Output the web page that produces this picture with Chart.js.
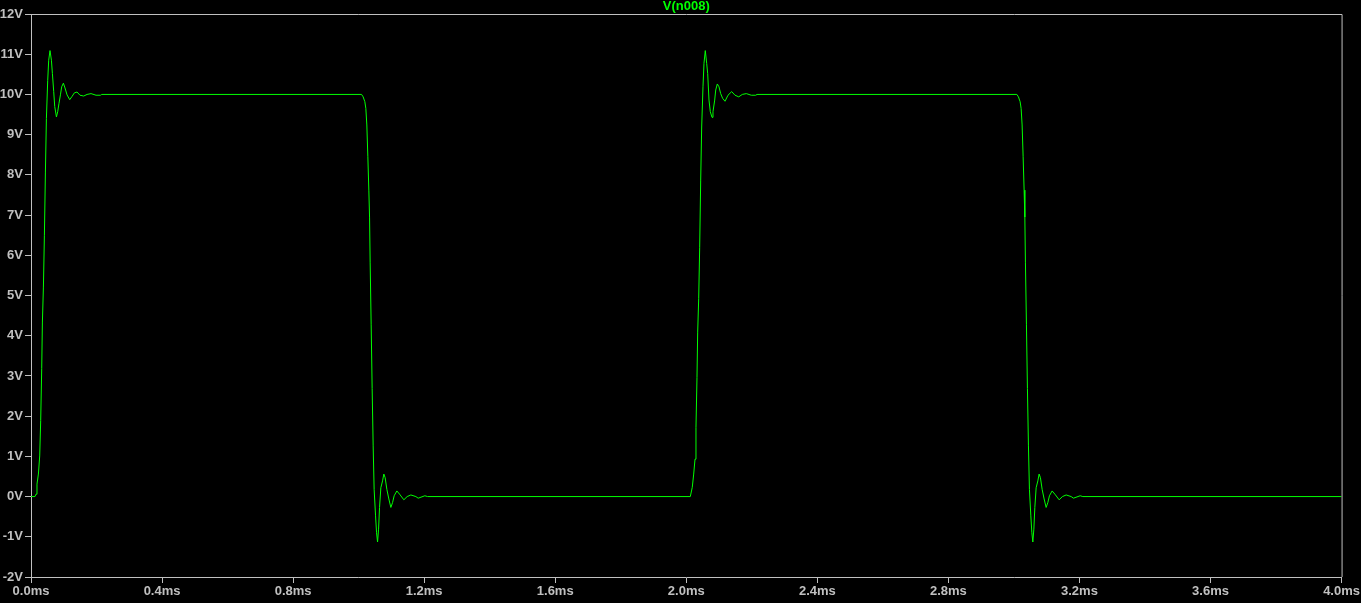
<!DOCTYPE html>
<html>
<head>
<meta charset="utf-8">
<title>V(n008)</title>
<script src="https://cdn.jsdelivr.net/npm/chart.js@4.4.1/dist/chart.umd.min.js"></script>
<style>
	html, body { margin: 0; padding: 0; background: #000; }
	#scope { display: block; }
</style>
</head>
<body>
<canvas id="scope" width="1361" height="603"></canvas>
<script>
// time in ms, voltage in V
const rise1Time = [0, 0.0122, 0.0153, 0.0183, 0.0226, 0.0266, 0.0296, 0.0327, 0.0348, 0.0379, 0.0409, 0.044, 0.047, 0.051, 0.054, 0.058, 0.0623, 0.0653, 0.0693, 0.0724, 0.0776, 0.0815, 0.0855, 0.0898, 0.0937, 0.0989, 0.1038, 0.11, 0.1182, 0.1252, 0.1325, 0.1405, 0.1496, 0.1609, 0.171, 0.1832, 0.1985, 0.2119, 0.2159];
const rise1Volt = [0, 0, 0.06, 0.31, 0.56, 1.01, 1.89, 3.18, 4.34, 5.21, 6.50, 8.07, 9.40, 10.35, 10.85, 11.09, 10.85, 10.52, 10.07, 9.70, 9.44, 9.57, 9.78, 9.99, 10.19, 10.28, 10.16, 9.99, 9.87, 9.95, 10.04, 10.06, 9.98, 9.96, 10.0, 10.02, 9.98, 9.98, 10.0];

const fall1Time = [1.0089, 1.0137, 1.0189, 1.022, 1.025, 1.0281, 1.0311, 1.0333, 1.0351, 1.0382, 1.0412, 1.0443, 1.0473, 1.0516, 1.0547, 1.0577, 1.0608, 1.0638, 1.0678, 1.0730, 1.0769, 1.0809, 1.0861, 1.0922, 1.0983, 1.1035, 1.1084, 1.1166, 1.1249, 1.1380, 1.1481, 1.1594, 1.1747, 1.1817, 1.2021, 1.2104];
const fall1Volt = [10, 9.94, 9.82, 9.65, 9.24, 8.45, 7.62, 6.95, 5.83, 4.27, 2.69, 1.26, 0.18, -0.48, -0.90, -1.13, -0.81, -0.27, 0.22, 0.39, 0.56, 0.47, 0.18, -0.06, -0.27, -0.15, 0.02, 0.14, 0.06, -0.08, 0, 0.04, 0, -0.04, 0.02, 0];

const rise2Time = [2.0122, 2.0183, 2.0226, 2.0266, 2.0296, 2.0327, 2.0348, 2.0379, 2.0409, 2.044, 2.047, 2.051, 2.054, 2.058, 2.0623, 2.0653, 2.0693, 2.0733, 2.0785, 2.0815, 2.0867, 2.0898, 2.0947, 2.0998, 2.1050, 2.1111, 2.1182, 2.1273, 2.1386, 2.1487, 2.16, 2.1710, 2.1832, 2.1985, 2.2119, 2.2159];
const rise2Volt = [0, 0.23, 0.56, 0.93, 1.72, 2.96, 4.09, 4.92, 6.20, 7.87, 9.19, 10.19, 10.77, 11.09, 10.77, 10.52, 9.86, 9.57, 9.43, 9.57, 9.86, 10.11, 10.26, 10.19, 10.02, 9.90, 9.83, 9.98, 10.07, 9.98, 9.94, 10.0, 10.02, 9.98, 9.98, 10.0];

const fall2Time = [3.0089, 3.0137, 3.0189, 3.022, 3.025, 3.0281, 3.0311, 3.0333, 3.0351, 3.0382, 3.0412, 3.0443, 3.0473, 3.0516, 3.0547, 3.0577, 3.0608, 3.0638, 3.0678, 3.0730, 3.0769, 3.0809, 3.0861, 3.0922, 3.0983, 3.1035, 3.1084, 3.1166, 3.1249, 3.1380, 3.1481, 3.1594, 3.1747, 3.1817, 3.2021, 3.2104, 4.0];
const fall2Volt = [10, 9.94, 9.82, 9.65, 9.24, 8.45, 7.62, 6.95, 5.83, 4.27, 2.69, 1.26, 0.18, -0.48, -0.90, -1.13, -0.81, -0.27, 0.22, 0.39, 0.56, 0.47, 0.18, -0.06, -0.27, -0.15, 0.02, 0.14, 0.06, -0.08, 0, 0.04, 0, -0.04, 0.02, 0, 0];

const xTickValues = [0, 0.4, 0.8, 1.2, 1.6, 2.0, 2.4, 2.8, 3.2, 3.6, 4.0];
const xTickLabels = ['0.0ms', '0.4ms', '0.8ms', '1.2ms', '1.6ms', '2.0ms', '2.4ms', '2.8ms', '3.2ms', '3.6ms', '4.0ms'];
const yTickValues = [-2, -1, 0, 1, 2, 3, 4, 5, 6, 7, 8, 9, 10, 11, 12];
const yTickLabels = ['-2V', '-1V', '0V', '1V', '2V', '3V', '4V', '5V', '6V', '7V', '8V', '9V', '10V', '11V', '12V'];

const traceName = 'V(n008)';

document.addEventListener("DOMContentLoaded", () => {
	initScope();
});

function toPoints(times, volts) {
	return times.map((t, i) => ({ x: t, y: volts[i] }));
}

function initScope() {
	const ctx = document.getElementById("scope");
	if (!ctx) return;

	const axisGrey = '#c0c0c0';
	const traceGreen = '#00ff00';
	const labelFont = { family: "'Liberation Sans', Arial, sans-serif", size: 13, weight: 'bold' };

	const points = []
		.concat(toPoints(rise1Time, rise1Volt))
		.concat(toPoints(fall1Time, fall1Volt))
		.concat(toPoints(rise2Time, rise2Volt))
		.concat(toPoints(fall2Time, fall2Volt));

	// box around the plot and the trace name on top
	const frame = {
		id: 'frame',
		beforeDraw(chart) {
			const c = chart.ctx;
			c.save();
			c.fillStyle = '#000';
			c.fillRect(0, 0, chart.width, chart.height);
			c.restore();
		},
		afterDraw(chart) {
			const a = chart.chartArea;
			const c = chart.ctx;
			c.save();
			c.strokeStyle = axisGrey;
			c.lineWidth = 1;
			c.beginPath();
			c.moveTo(a.left, a.top + 0.5);
			c.lineTo(a.right + 0.5, a.top + 0.5);
			c.lineTo(a.right + 0.5, a.bottom);
			c.stroke();
			c.fillStyle = traceGreen;
			c.font = "bold 13px 'Liberation Sans', Arial, sans-serif";
			c.textAlign = 'center';
			c.textBaseline = 'alphabetic';
			c.fillText(traceName, (a.left + a.right) / 2, 10);
			c.restore();
		}
	};

	new Chart(ctx, {
		type: 'line',
		data: {
			datasets: [{
				label: traceName,
				data: points,
				borderColor: traceGreen,
				borderWidth: 1,
				pointRadius: 0,
				tension: 0,
				fill: false
			}]
		},
		options: {
			responsive: false,
			animation: false,
			parsing: false,
			layout: { padding: { top: 14, right: 19, left: 0, bottom: 0 } },
			plugins: {
				legend: { display: false },
				tooltip: { enabled: false }
			},
			scales: {
				x: {
					type: 'linear',
					min: 0,
					max: 4,
					afterBuildTicks: scale => { scale.ticks = xTickValues.map(v => ({ value: v })); },
					afterFit: scale => { scale.height = 26; },
					border: { color: axisGrey, width: 1 },
					grid: { drawOnChartArea: false, drawTicks: true, tickLength: 6, color: axisGrey },
					ticks: {
						color: axisGrey,
						font: labelFont,
						padding: 1,
						maxRotation: 0,
						autoSkip: false,
						callback: (value, index) => xTickLabels[index]
					}
				},
				y: {
					min: -2,
					max: 12,
					afterBuildTicks: scale => { scale.ticks = yTickValues.map(v => ({ value: v })); },
					afterFit: scale => { scale.width = 31; },
					border: { color: axisGrey, width: 1 },
					grid: { drawOnChartArea: false, drawTicks: true, tickLength: 6, color: axisGrey },
					ticks: {
						color: axisGrey,
						font: labelFont,
						padding: 2,
						autoSkip: false,
						callback: (value, index) => yTickLabels[index]
					}
				}
			}
		},
		plugins: [frame]
	});
}
</script>
</body>
</html>
